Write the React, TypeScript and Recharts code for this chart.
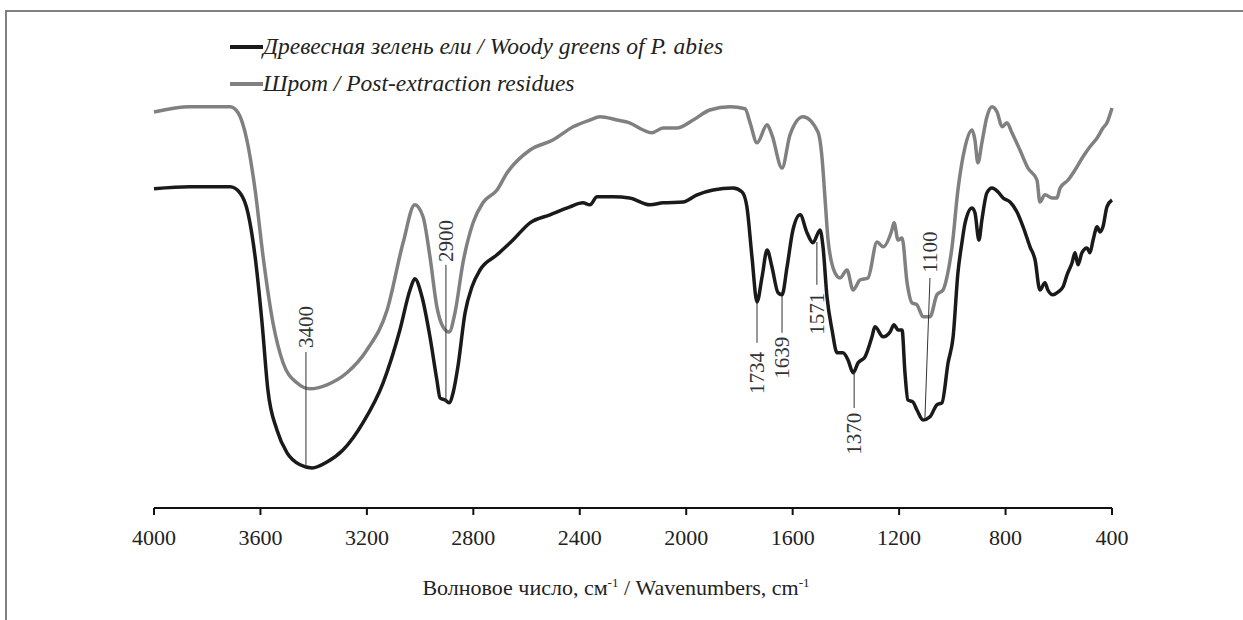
import { LineChart, Line, XAxis, YAxis, ReferenceLine, ReferenceDot } from 'recharts'

// wavenumbers (cm-1) and transmittance-like values
const woodyX = [4000, 3865, 3714, 3677, 3647, 3620, 3594, 3572, 3538, 3500, 3451, 3406, 3350, 3290, 3215, 3139, 3076, 3038, 3020, 2993, 2963, 2937, 2925, 2906, 2891, 2876, 2858, 2831, 2805, 2775, 2711, 2651, 2587, 2512, 2437, 2388, 2362, 2335, 2275, 2213, 2136, 2087, 2012, 1959, 1899, 1824, 1790, 1772, 1753, 1734, 1715, 1696, 1678, 1655, 1640, 1621, 1599, 1572, 1546, 1524, 1497, 1486, 1471, 1452, 1433, 1411, 1392, 1373, 1354, 1328, 1302, 1291, 1260, 1234, 1219, 1204, 1189, 1178, 1167, 1148, 1133, 1110, 1084, 1058, 1039, 1016, 997, 979, 964, 952, 926, 915, 900, 889, 870, 851, 828, 809, 783, 757, 734, 708, 689, 671, 652, 641, 622, 603, 584, 569, 550, 539, 528, 513, 494, 483, 471, 456, 445, 434, 419, 400]
const woodyY = [79.8, 80.3, 80.3, 78.8, 73.8, 62.8, 46.3, 29.5, 19.5, 13.8, 10.8, 10.0, 11.5, 14.5, 21.3, 31.3, 44.5, 54.5, 57.3, 52.8, 42.8, 32.0, 27.5, 27.0, 26.3, 28.8, 35.3, 48.8, 55.3, 59.5, 63.3, 67.0, 71.3, 73.3, 75.3, 76.3, 75.8, 77.8, 77.8, 77.5, 75.8, 76.3, 76.5, 78.3, 79.5, 80.0, 79.0, 75.3, 62.8, 51.5, 57.8, 64.5, 60.3, 53.8, 53.3, 60.3, 69.5, 73.3, 68.8, 66.3, 69.5, 65.3, 52.8, 44.5, 38.8, 38.8, 37.0, 33.8, 36.3, 37.8, 42.8, 45.3, 42.8, 44.0, 45.8, 44.5, 44.5, 33.8, 27.0, 26.5, 24.5, 22.0, 22.8, 25.8, 26.3, 36.3, 42.8, 58.8, 66.3, 71.3, 75.0, 73.8, 67.0, 72.0, 78.8, 80.0, 79.0, 77.5, 76.5, 74.0, 70.3, 65.3, 62.0, 54.5, 56.3, 54.5, 53.3, 54.0, 55.3, 58.3, 61.3, 63.8, 60.8, 63.8, 65.0, 63.8, 67.0, 70.3, 69.0, 70.3, 75.3, 77.0]

const residueX = [4000, 3865, 3714, 3684, 3651, 3620, 3590, 3553, 3515, 3463, 3414, 3350, 3275, 3200, 3124, 3064, 3020, 2989, 2963, 2937, 2914, 2891, 2869, 2839, 2801, 2764, 2711, 2673, 2587, 2501, 2425, 2362, 2324, 2260, 2213, 2162, 2129, 2087, 2035, 1974, 1911, 1835, 1779, 1760, 1734, 1696, 1678, 1640, 1610, 1561, 1505, 1490, 1478, 1467, 1441, 1422, 1396, 1373, 1347, 1317, 1283, 1260, 1227, 1219, 1204, 1189, 1170, 1152, 1133, 1110, 1084, 1058, 1035, 1020, 1001, 979, 952, 926, 915, 904, 889, 870, 851, 832, 813, 795, 776, 746, 716, 682, 671, 652, 625, 607, 595, 565, 539, 509, 483, 456, 434, 419, 400]
const residueY = [99.0, 100.3, 100.3, 98.8, 92.0, 79.5, 62.8, 46.3, 36.3, 31.3, 29.8, 30.8, 33.8, 39.5, 49.5, 66.3, 75.8, 72.8, 62.8, 50.3, 45.3, 44.0, 48.8, 61.3, 71.3, 76.3, 79.5, 83.8, 89.5, 92.0, 95.3, 97.0, 97.8, 97.0, 96.3, 94.5, 93.8, 95.0, 95.0, 97.0, 99.5, 100.3, 99.8, 96.3, 91.3, 95.8, 93.3, 85.0, 93.3, 97.8, 94.0, 87.8, 77.0, 67.0, 58.8, 57.5, 59.5, 54.5, 57.0, 57.5, 66.5, 65.3, 69.5, 71.3, 67.0, 67.5, 56.3, 51.3, 50.8, 47.8, 47.8, 53.3, 54.5, 57.8, 65.3, 79.5, 90.3, 94.5, 92.0, 86.3, 91.3, 97.8, 100.3, 99.0, 95.3, 96.3, 93.8, 89.5, 85.0, 82.0, 76.5, 78.3, 77.5, 77.5, 80.0, 82.0, 84.5, 87.8, 90.3, 92.5, 95.0, 96.3, 100.0]

const xTicks = [4000, 3600, 3200, 2800, 2400, 2000, 1600, 1200, 800, 400]

// peak marks: label, line start/end (x, y), where the label starts
const peakLabels = ['3400', '2900', '1734', '1639', '1571', '1370', '1100']
const peakX1 = [3429, 2903, 1734, 1640, 1509, 1369, 1103]
const peakX2 = [3429, 2903, 1734, 1640, 1509, 1369, 1084]
const peakY1 = [10.3, 26.5, 51.3, 53.0, 66.5, 34.0, 22.5]
const peakY2 = [39.0, 60.8, 41.3, 43.8, 55.8, 25.0, 57.5]
const peakLabelY = [40.0, 61.5, 39.0, 42.8, 53.8, 23.8, 58.8]

const seriesNames = ['Древесная зелень ели / Woody greens of P. abies', 'Шрот / Post-extraction residues']

const serif = 'Liberation Serif, serif'

const woody = woodyX.map((x, i) => ({ x, y: woodyY[i] }))
const residue = residueX.map((x, i) => ({ x, y: residueY[i] }))

function AxisTitle() {
  return (
    <text x={616} y={595} textAnchor="middle" fontFamily={serif} fontSize={22} fill="#222">
      Волновое число, см<tspan dy={-8} fontSize={13}>-1</tspan>
      <tspan dy={8}> / Wavenumbers, cm</tspan>
      <tspan dy={-8} fontSize={13}>-1</tspan>
    </text>
  )
}

function PeakText(props: any) {
  const { cx, cy, label, above } = props
  return (
    <text
      x={cx}
      y={cy}
      dy="0.35em"
      transform={`rotate(-90 ${cx} ${cy})`}
      textAnchor={above ? 'start' : 'end'}
      fontFamily={serif}
      fontSize={21}
      fill="#333"
    >
      {label}
    </text>
  )
}

export default function App() {
  return (
    <div style={{ position: 'absolute', left: 0, top: 0, width: 1243, height: 620, background: '#fff' }}>
      <div style={{ position: 'absolute', left: 5, right: 0, top: 10, borderTop: '2px solid #808080' }} />
      <div style={{ position: 'absolute', left: 5, top: 10, bottom: 0, borderLeft: '2px solid #808080' }} />

      <div style={{ position: 'absolute', left: 228, top: 28, fontFamily: serif, fontStyle: 'italic', fontSize: 23.5, color: '#222', lineHeight: '37px' }}>
        {seriesNames.map((name, i) => (
          <div key={name} style={{ display: 'flex', alignItems: 'center' }}>
            <svg width={35} height={10}>
              <line x1={2} y1={5} x2={35} y2={5} stroke={i === 0 ? '#1a1a1a' : '#808080'} strokeWidth={4} />
            </svg>
            <span>{name}</span>
          </div>
        ))}
      </div>

      <LineChart width={1243} height={620} margin={{ top: 88, right: 131, left: 154, bottom: 62 }}>
        <XAxis
          dataKey="x"
          type="number"
          domain={[400, 4000]}
          reversed
          ticks={xTicks}
          height={50}
          axisLine={{ stroke: '#111', strokeWidth: 2 }}
          tickLine={{ stroke: '#111', strokeWidth: 2 }}
          tickSize={7}
          tickMargin={14}
          tick={{ fontFamily: serif, fontSize: 22, fill: '#222' }}
          label={<AxisTitle />}
        />
        <YAxis type="number" domain={[0, 105]} hide width={0} />
        <Line data={residue} dataKey="y" type="monotone" stroke="#808080" strokeWidth={3.5} dot={false} isAnimationActive={false} />
        <Line data={woody} dataKey="y" type="monotone" stroke="#1a1a1a" strokeWidth={3.5} dot={false} isAnimationActive={false} />
        {peakLabels.map((label, i) => (
          <ReferenceLine
            key={'l' + label}
            segment={[{ x: peakX1[i], y: peakY1[i] }, { x: peakX2[i], y: peakY2[i] }]}
            stroke="#333"
            strokeWidth={1}
          />
        ))}
        {peakLabels.map((label, i) => (
          <ReferenceDot
            key={'t' + label}
            x={peakX2[i]}
            y={peakLabelY[i]}
            r={0}
            shape={(p: any) => <PeakText cx={p.cx} cy={p.cy} label={label} above={peakLabelY[i] > peakY1[i]} />}
          />
        ))}
      </LineChart>
    </div>
  )
}
